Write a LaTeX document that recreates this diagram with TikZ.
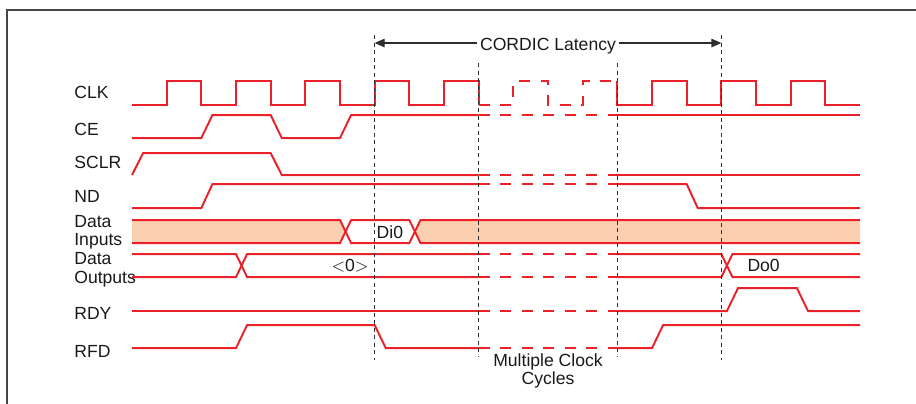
\documentclass[tikz,border=0pt]{standalone}
\usepackage{fontspec}
\setmainfont{Liberation Sans}
\usepackage{tikz}
\usetikzlibrary{arrows.meta,positioning,calc}
\definecolor{sigred}{RGB}{234,33,40}
\definecolor{busfill}{RGB}{251,208,176}
\definecolor{guidegray}{RGB}{45,45,45}
\definecolor{framegray}{RGB}{70,70,70}

\begin{document}
\begin{tikzpicture}[
  x=0.6933cm, y=-0.02cm,
  sig/.style={draw=sigred, line width=1.1pt},
  gapsig/.style={sig, dash pattern=on 0.22cm off 0.21cm},
  vguide/.style={draw=guidegray, line width=0.75pt, dash pattern=on 0.08cm off 0.07cm},
  lbl/.style={anchor=west, align=left, inner sep=0pt,
    font=\fontsize{10}{10.5}\selectfont, text=black!90},
  txt/.style={inner sep=0pt, font=\fontsize{10}{10.5}\selectfont, text=black!90},
  latarr/.style={-{Triangle[length=0.2cm, width=0.17cm]}, draw=guidegray, line width=0.75pt}
]
  \useasboundingbox (-3.8077,0) rectangle (22.615,403);
  \clip (-3.8077,0) rectangle (22.615,403);

  % Frame
  \draw[framegray, line width=1pt] (-3.606,420) -- (-3.606,10) -- (23,10);

  % Signal names
  \node[lbl] (clk) at (-1.673,92.5) {CLK};
  \node[lbl] (ce) at (-1.673,129) {CE};
  \node[lbl] (sclr) at (-1.673,162) {SCLR};
  \node[lbl] (nd) at (-1.673,196.5) {ND};
  \node[lbl] (din) at (-1.673,232) {Data\\Inputs};
  \node[lbl] (dout) at (-1.673,269.5) {Data\\Outputs};
  \node[lbl] (rdy) at (-1.673,313) {RDY};
  \node[lbl] (rfd) at (-1.673,351) {RFD};

  % CLK
  \draw[sig] (0,105) \foreach \k in {1,3,5,7,9} {
    -- (\k,105) -- (\k,81) -- (\k+1,81) -- (\k+1,105)};
  \draw[gapsig] (10,105) -- (11,105) -- (11,81) -- (12,81) -- (12,105)
    -- (13,105) -- (13,81) -- (14,81);
  \draw[sig] (14,81) -- (14,105) \foreach \k in {15,17,19} {
    -- (\k,105) -- (\k,81) -- (\k+1,81) -- (\k+1,105)} -- (21,105);

  % CE
  \draw[sig] (0,138) -- (2,138) -- (2.32,115) -- (4,115) -- (4.32,138)
    -- (6,138) -- (6.32,115) -- (10,115);
  \draw[gapsig] (10,115) -- (14,115);
  \draw[sig] (14,115) -- (21,115);

  % SCLR
  \draw[sig] (0,175) -- (0.32,153) -- (4,153) -- (4.32,175) -- (10,175);
  \draw[gapsig] (10,175) -- (14,175);
  \draw[sig] (14,175) -- (21,175);

  % ND
  \draw[sig] (0,208) -- (2,208) -- (2.32,184) -- (10,184);
  \draw[gapsig] (10,184) -- (14,184);
  \draw[sig] (14,184) -- (16,184) -- (16.32,208) -- (21,208);

  % Data Inputs
  \fill[busfill] (0,220) -- (6,220) -- (6.16,231.5) -- (6,243) -- (0,243) -- cycle;
  \fill[busfill] (8.16,231.5) -- (8.32,220) -- (21,220) -- (21,243) -- (8.32,243) -- cycle;
  \draw[sig] (0,220) -- (6,220) -- (6.32,243) -- (8,243) -- (8.32,220) -- (21,220);
  \draw[sig] (0,243) -- (6,243) -- (6.32,220) -- (8,220) -- (8.32,243) -- (21,243);
  \node[txt] (di) at (7.44,232.5) {Di0};

  % Data Outputs
  \draw[sig] (0,254) -- (3,254) -- (3.32,277) -- (10,277);
  \draw[sig] (0,277) -- (3,277) -- (3.32,254) -- (10,254);
  \draw[gapsig] (10,254) -- (14,254);
  \draw[gapsig] (10,277) -- (14,277);
  \draw[sig] (14,277) -- (17,277) -- (17.32,254) -- (21,254);
  \draw[sig] (14,254) -- (17,254) -- (17.32,277) -- (21,277);
  \node[txt] (zero) at (6.29,266) {\(<\)0\(>\)};
  \node[txt] (do) at (18.22,265.5) {Do0};

  % RDY
  \draw[sig] (0,311) -- (10,311);
  \draw[gapsig] (10,311) -- (14,311);
  \draw[sig] (14,311) -- (17.16,311) -- (17.48,288) -- (19.18,288) -- (19.5,311) -- (21,311);

  % RFD
  \draw[sig] (0,348) -- (3,348) -- (3.32,325) -- (7,325) -- (7.32,348) -- (10,348);
  \draw[gapsig] (10,348) -- (14,348);
  \draw[sig] (14,348) -- (15,348) -- (15.32,325) -- (21,325);

  % Guides
  \draw[vguide] (7,35) -- (7,360);
  \draw[vguide] (10,63) -- (10,357);
  \draw[vguide] (14,63) -- (14,357);
  \draw[vguide] (17,35) -- (17,360);

  % Latency
  \node[txt, anchor=base, inner sep=1.5pt] (lat) at (12,50) {CORDIC Latency};
  \coordinate (latL) at (7,43);
  \coordinate (latR) at (17,43);
  \draw[latarr] (lat.west |- latL) -- (latL);
  \draw[latarr] (lat.east |- latR) -- (latR);
  \node[txt, anchor=north, align=center] (mcc) at (12,353) {Multiple Clock\\Cycles};
\end{tikzpicture}
\end{document}
